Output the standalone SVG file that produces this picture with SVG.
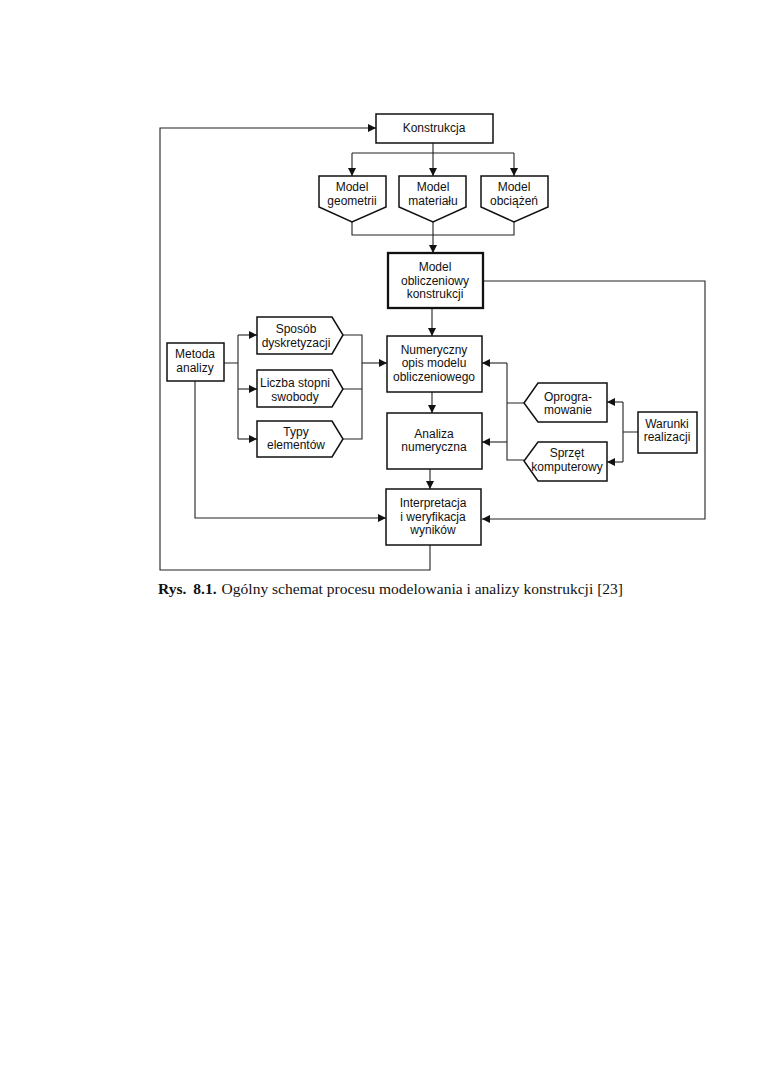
<svg xmlns="http://www.w3.org/2000/svg" width="760" height="1075" viewBox="0 0 760 1075">
<defs>
<marker id="ah" viewBox="0 0 10 10" refX="10" refY="5" markerWidth="8" markerHeight="8" markerUnits="userSpaceOnUse" orient="auto">
<path d="M0,0 L10,5 L0,10 z" fill="#111"/>
</marker>
<style>
.b{fill:#fff;stroke:#111;stroke-width:1.5}
.bt{fill:#fff;stroke:#111;stroke-width:2.3}
.c{fill:none;stroke:#222;stroke-width:1.1}
.a{marker-end:url(#ah)}
text{font-family:"Liberation Sans",Arial,sans-serif;font-size:12px;fill:#111;text-anchor:middle}
.cap{font-family:"Liberation Serif","Times New Roman",serif;font-size:15.5px;text-anchor:start}
</style>
</defs>
<rect width="760" height="1075" fill="#fff"/>
<g id="connectors">
<path class="c a" d="M430,545 V570 H160 V128 H376"/>
<path class="c" d="M433,143 V153 M352,153 H514"/>
<path class="c a" d="M352,153 V176"/>
<path class="c a" d="M433,153 V176"/>
<path class="c a" d="M514,153 V176"/>
<path class="c" d="M352,222 V235 H514 V222 M433,222 V235"/>
<path class="c a" d="M433,235 V253"/>
<path class="c a" d="M432,308 V336"/>
<path class="c a" d="M432,392 V413"/>
<path class="c a" d="M430,469 V489"/>
<path class="c a" d="M483,281 H705 V519 H482"/>
<path class="c" d="M224,363 H238 M238,335 V439"/>
<path class="c a" d="M238,335 H257"/>
<path class="c a" d="M238,389 H257"/>
<path class="c a" d="M238,439 H257"/>
<path class="c" d="M343,335 H362 V439 H343 M343,389 H362"/>
<path class="c a" d="M362,363 H387"/>
<path class="c a" d="M195,381 V518 H386"/>
<path class="c a" d="M507,363 H482"/>
<path class="c a" d="M507,442 H482"/>
<path class="c" d="M507,363 V460 H524 M507,403 H524"/>
<path class="c" d="M638,432 H623 M623,402 V462"/>
<path class="c a" d="M623,402 H607"/>
<path class="c a" d="M623,462 H607"/>
</g>
<g id="konstrukcja">
<rect class="b" x="376" y="114" width="117" height="29"/>
<text x="434" y="132">Konstrukcja</text>
</g>
<g id="model-geometrii">
<path class="b" d="M319,176 H386 V207 L352,222 L319,207 Z"/>
<text x="352" y="191">Model</text><text x="352" y="205">geometrii</text>
</g>
<g id="model-materialu">
<path class="b" d="M399,176 H466 V207 L433,222 L399,207 Z"/>
<text x="433" y="191">Model</text><text x="433" y="205">materiału</text>
</g>
<g id="model-obciazen">
<path class="b" d="M481,176 H548 V207 L514,222 L481,207 Z"/>
<text x="514" y="191">Model</text><text x="514" y="205">obciążeń</text>
</g>
<g id="model-obliczeniowy">
<rect class="bt" x="388" y="253" width="95" height="55"/>
<text x="435" y="271">Model</text><text x="435" y="285">obliczeniowy</text><text x="435" y="298">konstrukcji</text>
</g>
<g id="numeryczny-opis">
<rect class="b" x="387" y="336" width="95" height="56"/>
<text x="434" y="354">Numeryczny</text><text x="434" y="367">opis modelu</text><text x="434" y="381">obliczeniowego</text>
</g>
<g id="analiza-numeryczna">
<rect class="b" x="387" y="413" width="95" height="56"/>
<text x="434" y="438">Analiza</text><text x="434" y="451">numeryczna</text>
</g>
<g id="interpretacja">
<rect class="b" x="386" y="489" width="95" height="56"/>
<text x="433" y="507">Interpretacja</text><text x="433" y="521">i weryfikacja</text><text x="433" y="534">wyników</text>
</g>
<g id="metoda-analizy">
<rect class="b" x="167" y="343" width="57" height="38"/>
<text x="195" y="358">Metoda</text><text x="195" y="372">analizy</text>
</g>
<g id="sposob-dyskretyzacji">
<path class="b" d="M257,317 H332 L343,335 L332,354 H257 Z"/>
<text x="296" y="333">Sposób</text><text x="296" y="347">dyskretyzacji</text>
</g>
<g id="liczba-stopni">
<path class="b" d="M257,370 H332 L343,389 L332,407 H257 Z"/>
<text x="295" y="387">Liczba stopni</text><text x="295" y="401">swobody</text>
</g>
<g id="typy-elementow">
<path class="b" d="M257,421 H332 L343,439 L332,457 H257 Z"/>
<text x="296" y="436">Typy</text><text x="296" y="449">elementów</text>
</g>
<g id="oprogramowanie">
<path class="b" d="M607,383 H538 L524,403 L538,422 H607 Z"/>
<text x="568" y="401">Oprogra-</text><text x="568" y="414">mowanie</text>
</g>
<g id="sprzet">
<path class="b" d="M607,442 H538 L524,461 L538,481 H607 Z"/>
<text x="567" y="457">Sprzęt</text><text x="567" y="471">komputerowy</text>
</g>
<g id="warunki-realizacji">
<rect class="b" x="638" y="412" width="59" height="41"/>
<text x="667" y="428">Warunki</text><text x="667" y="441">realizacji</text>
</g>
<text class="cap" x="158" y="594" textLength="465" lengthAdjust="spacing"><tspan font-weight="bold">Rys.</tspan><tspan font-weight="bold" dx="7">8.1.</tspan><tspan dx="5">Ogólny schemat procesu modelowania i analizy konstrukcji [23]</tspan></text>
</svg>
